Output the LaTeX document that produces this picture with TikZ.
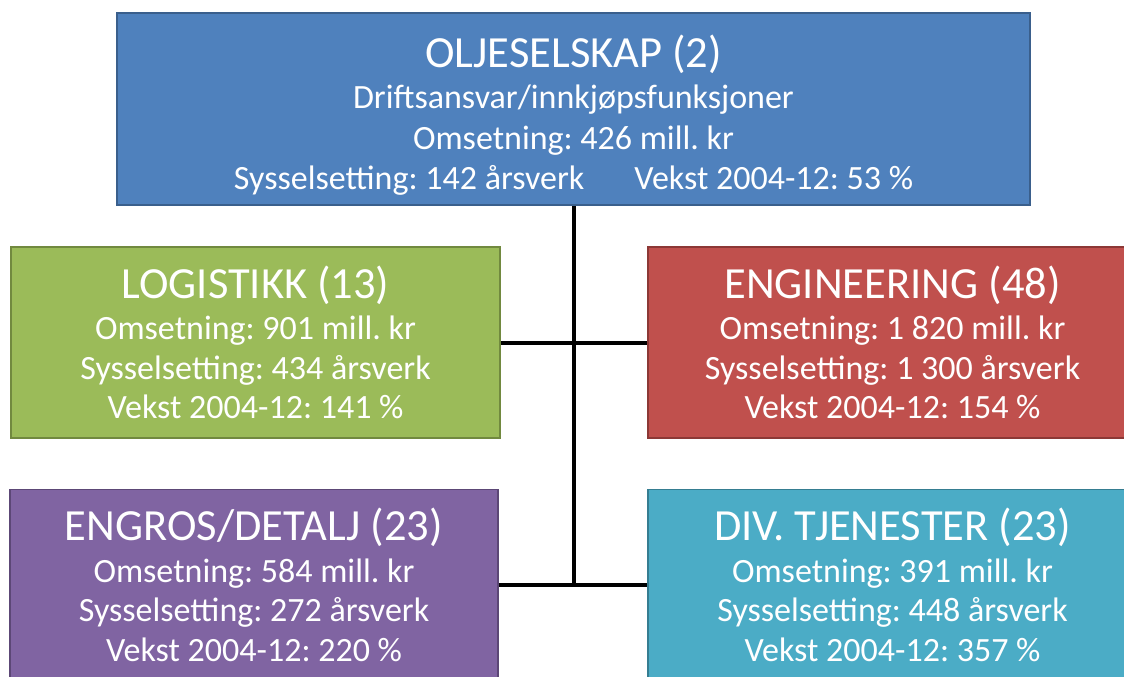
\documentclass[tikz,border=0pt]{standalone}
\usepackage{fontspec}
\setmainfont{Carlito}
\frenchspacing
\usetikzlibrary{positioning, calc}

\definecolor{oljeblue}{HTML}{4F81BD}
\definecolor{oljeblueD}{HTML}{3A5F8C}
\definecolor{loggreen}{HTML}{9BBB59}
\definecolor{loggreenD}{HTML}{71893F}
\definecolor{engred}{HTML}{C0504D}
\definecolor{engredD}{HTML}{8C3836}
\definecolor{detpurple}{HTML}{8064A2}
\definecolor{detpurpleD}{HTML}{5C4776}
\definecolor{tjenteal}{HTML}{4BACC6}
\definecolor{tjentealD}{HTML}{357D91}

\newcommand{\unithead}[1]{{\fontsize{44.5}{48}\selectfont #1}}

\begin{document}
\begin{tikzpicture}[x=1pt, y=-1pt,
  unit/.style={rectangle, line width=1.5pt, text=white, align=center,
    font=\fontsize{34}{39.5}\selectfont, inner sep=0pt,
    minimum width=489pt, minimum height=191pt},
  link/.style={line width=4pt, black}]
  \useasboundingbox (0,0) rectangle (1124,677);
  \clip (0,0) rectangle (1124,677);

  % Parent company
  \node[unit, fill=oljeblue, draw=oljeblueD, minimum width=913pt, minimum height=192pt,
    font=\fontsize{34}{40.5}\selectfont] (olje) at (573.5,109)
    {\rule{0pt}{45pt}\unithead{OLJESELSKAP (2)}\\[0.5pt]
     Driftsansvar/innkjøpsfunksjoner\\
     Omsetning: 426 mill. kr\\
     Sysselsetting: 142 årsverk\hspace{50pt}Vekst 2004-12: 53 \%};

  % Segments
  \node[unit, fill=loggreen, draw=loggreenD] (logistikk) at (255.5,342.5)
    {\unithead{LOGISTIKK (13)}\\[2pt]
     Omsetning: 901 mill. kr\\
     Sysselsetting: 434 årsverk\\
     Vekst 2004-12: 141 \%};
  \node[unit, fill=engred, draw=engredD] (engineering) at (892.5,342.5)
    {\unithead{ENGINEERING (48)}\\[2pt]
     Omsetning: 1 820 mill. kr\\
     Sysselsetting: 1 300 årsverk\\
     Vekst 2004-12: 154 \%};
  \node[unit, fill=detpurple, draw=detpurpleD, minimum width=488pt] (engros) at (254,585)
    {\unithead{ENGROS/DETALJ (23)}\\[2pt]
     Omsetning: 584 mill. kr\\
     Sysselsetting: 272 årsverk\\
     Vekst 2004-12: 220 \%};
  \node[unit, fill=tjenteal, draw=tjentealD] (tjenester) at (892.5,585)
    {\unithead{DIV. TJENESTER (23)}\\[2pt]
     Omsetning: 391 mill. kr\\
     Sysselsetting: 448 årsverk\\
     Vekst 2004-12: 357 \%};

  % Links
  \coordinate (stem) at (olje.south |- engros.east);
  \draw[link] (olje.south) -- (stem);
  \draw[link] (logistikk.east) -- (engineering.west);
  \draw[link] (engros.east) -- (tjenester.west);
\end{tikzpicture}
\end{document}
